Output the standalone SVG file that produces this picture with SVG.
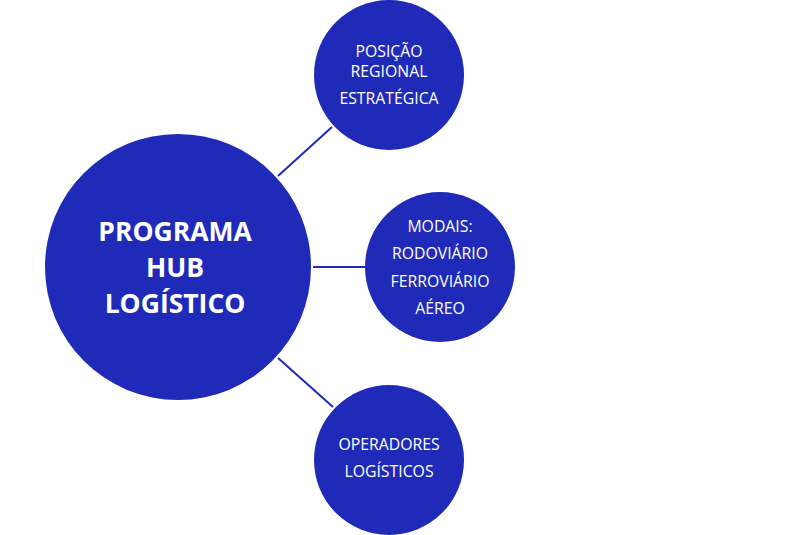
<svg xmlns="http://www.w3.org/2000/svg" width="800" height="535" viewBox="0 0 800 535">
<style>
.c{fill:#1f2bb8}
.l{stroke:#1f2bb8;stroke-width:2;fill:none}
.t{fill:#fff;font-family:"Open Sans","Noto Sans",sans-serif;font-size:15.8px;text-anchor:middle}
.b{fill:#fff;font-family:"Open Sans","Noto Sans",sans-serif;font-size:26.5px;font-weight:bold;text-anchor:middle}
</style>
<rect width="800" height="535" fill="#fff"/>
<g id="connectors">
<line class="l" x1="278" y1="176" x2="332" y2="127"/>
<line class="l" x1="313" y1="267" x2="365" y2="267"/>
<line class="l" x1="278" y1="358" x2="333" y2="407"/>
</g>
<g id="hub">
<circle class="c" cx="178" cy="267" r="133"/>
<text class="b" x="175" y="241">PROGRAMA</text>
<text class="b" x="175" y="277">HUB</text>
<text class="b" x="175" y="313">LOGÍSTICO</text>
</g>
<g id="posicao">
<circle class="c" cx="389" cy="75" r="75"/>
<text class="t" x="389" y="57">POSIÇÃO</text>
<text class="t" x="389" y="77">REGIONAL</text>
<text class="t" x="389" y="104">ESTRATÉGICA</text>
</g>
<g id="modais">
<circle class="c" cx="440" cy="267" r="75"/>
<text class="t" x="440" y="232">MODAIS:</text>
<text class="t" x="440" y="259">RODOVIÁRIO</text>
<text class="t" x="440" y="287">FERROVIÁRIO</text>
<text class="t" x="440" y="314">AÉREO</text>
</g>
<g id="operadores">
<circle class="c" cx="389" cy="460" r="75"/>
<text class="t" x="389" y="450">OPERADORES</text>
<text class="t" x="389" y="477">LOGÍSTICOS</text>
</g>
</svg>
